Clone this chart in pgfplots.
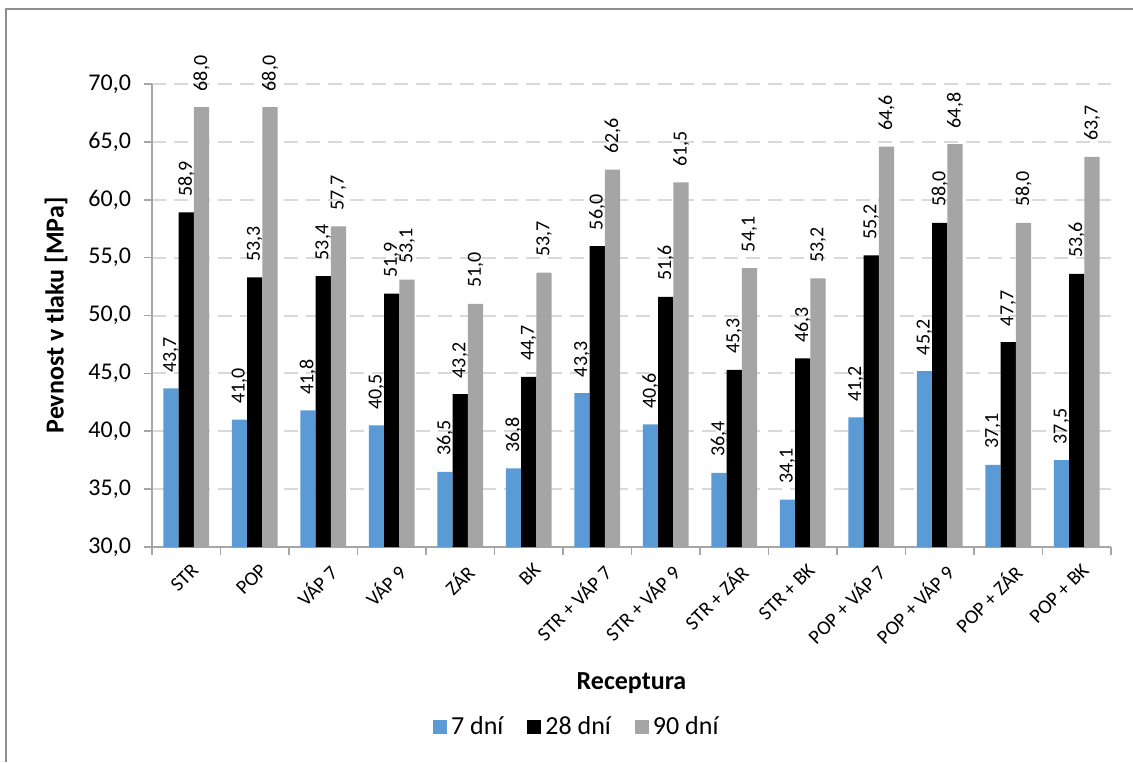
\documentclass[border=0pt]{standalone}
\usepackage{pgfplots}
\pgfplotsset{compat=1.18}
\usepackage{fontspec}
\setmainfont{Carlito}
\definecolor{cblue}{HTML}{5B9BD5}
\definecolor{cgray}{HTML}{A5A5A5}
\definecolor{axgray}{HTML}{A6A6A6}
\definecolor{gridgray}{HTML}{D9D9D9}
\definecolor{framegray}{HTML}{8F8F8F}
\begin{document}
\begin{tikzpicture}
\useasboundingbox (0,0) rectangle (566.5pt,381pt);
\draw[framegray, line width=1pt] (3pt,0pt) -- (3pt,376.25pt) -- (566.5pt,376.25pt);
\begin{axis}[
  at={(76pt,107.5pt)}, anchor=south west,
  scale only axis, width=479.5pt, height=231.5pt,
  xmin=-0.5, xmax=13.5, ymin=30, ymax=70,
  ybar, bar width=0.2235,
  axis lines=left,
  axis line style={-, draw=axgray, line width=0.8pt},
  tick align=outside,
  major tick length=4pt,
  every tick/.style={draw=axgray, line width=0.8pt},
  ytick={30,35,...,70},
  ymajorgrids,
  grid style={gridgray, line width=1pt, dash pattern=on 7pt off 4pt},
  /pgf/number format/assume math mode=true,
  yticklabel style={font=\fontsize{12}{14}\selectfont, xshift=-3pt, /pgf/number format/.cd, fixed, fixed zerofill, precision=1, use comma},
  xtick={-0.5,0.5,...,13.5},
  xticklabels={},
  extra x ticks={0,1,...,13},
  extra x tick labels={STR, POP, VÁP 7, VÁP 9, ZÁR, BK, STR + VÁP 7, STR + VÁP 9, STR + ZÁR, STR + BK, POP + VÁP 7, POP + VÁP 9, POP + ZÁR, POP + BK},
  extra x tick style={major tick length=0pt, tick label style={xshift=2pt, yshift=-7.5pt, rotate=45, anchor=north east, inner sep=0pt, font=\fontsize{10}{12}\selectfont}},
  xlabel={Receptura},
  every axis x label/.style={at={(rel axis cs:0.5,0)}, yshift=-68pt, anchor=center, font=\fontsize{13}{15}\selectfont\bfseries},
  ylabel={Pevnost v tlaku [MPa]},
  every axis y label/.style={at={(rel axis cs:0,0.5)}, xshift=-48pt, rotate=90, anchor=center, font=\fontsize{13}{15}\selectfont\bfseries},
  nodes near coords={\pgfmathprintnumber[fixed,fixed zerofill,precision=1,use comma,assume math mode=true]{\pgfplotspointmeta}},
  every node near coord/.append style={rotate=90, anchor=west, inner ysep=0pt, inner xsep=8pt, outer sep=0pt, font=\fontsize{10}{12}\selectfont, text=black},
  nodes near coords align={vertical},
  legend columns=-1,
  legend style={at={(axis description cs:0.444,-0.389)}, anchor=center, draw=none, fill=none,
    font=\fontsize{13}{15}\selectfont,
    /tikz/every even column/.append style={column sep=10pt}},
  legend image code/.code={\fill[#1] (0pt,-3.5pt) rectangle (7pt,3.5pt);},
  clip=true,
]
\addplot[fill=cblue, draw=none, bar shift=-0.2235] coordinates {
(0,43.7) (1,41.0) (2,41.8) (3,40.5) (4,36.5) (5,36.8) (6,43.3) (7,40.6) (8,36.4) (9,34.1) (10,41.2) (11,45.2) (12,37.1) (13,37.5)};
\addplot[fill=black, draw=none, bar shift=0] coordinates {
(0,58.9) (1,53.3) (2,53.4) (3,51.9) (4,43.2) (5,44.7) (6,56.0) (7,51.6) (8,45.3) (9,46.3) (10,55.2) (11,58.0) (12,47.7) (13,53.6)};
\addplot[fill=cgray, draw=none, bar shift=0.2235] coordinates {
(0,68.0) (1,68.0) (2,57.7) (3,53.1) (4,51.0) (5,53.7) (6,62.6) (7,61.5) (8,54.1) (9,53.2) (10,64.6) (11,64.8) (12,58.0) (13,63.7)};
\legend{7 dní, 28 dní, 90 dní}
\end{axis}
\end{tikzpicture}
\end{document}
